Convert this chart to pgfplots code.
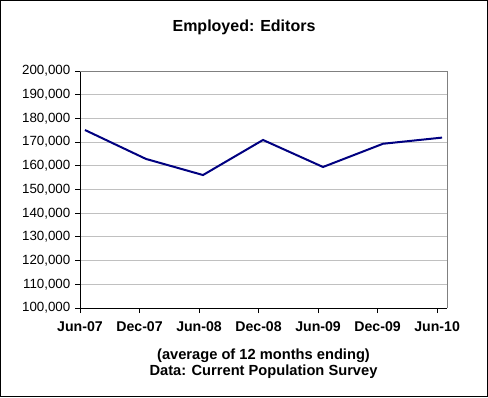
\documentclass[border=0pt]{standalone}
\usepackage{fontspec}
\setmainfont{Liberation Sans}
\usepackage{pgfplots}
\pgfplotsset{compat=1.18}
\definecolor{navyline}{HTML}{000080}
\definecolor{gridc}{HTML}{C0C0C0}
\definecolor{borderc}{HTML}{808080}
\begin{document}
\begin{tikzpicture}
\useasboundingbox (0,0) rectangle (366pt,297.75pt);
\draw[black, line width=0.75pt] (0.375pt,0.375pt) rectangle (365.625pt,297.375pt);
\node[font=\fontsize{12}{14}\selectfont\bfseries] at (183pt,277pt) {Employed: Editors};
\begin{axis}[
  at={(60pt,66.75pt)}, anchor=south west,
  scale only axis, width=275.25pt, height=177.75pt,
  xmin=0, xmax=37, ymin=100000, ymax=200000,
  xtick={0,6,12,18,24,30,36},
  xticklabels={Jun-07,Dec-07,Jun-08,Dec-08,Jun-09,Dec-09,Jun-10},
  ytick={100000,110000,...,200000},
  axis x line*=bottom, axis y line*=left,
  axis line style={black, line width=0.75pt, -},
  tick align=outside, major tick length=3.75pt,
  tick style={black, line width=0.75pt},
  ymajorgrids, grid style={gridc, line width=0.75pt},
  /pgf/number format/assume math mode=true,
  scaled y ticks=false,
  yticklabel style={font=\fontsize{10}{12}\selectfont, /pgf/number format/fixed, /pgf/number format/1000 sep={,}},
  xticklabel style={font=\fontsize{10.6}{12}\selectfont\bfseries, yshift=-3pt},
  xlabel={(average of 12 months ending)\\Data: Current Population Survey},
  xlabel style={font=\fontsize{11}{12}\selectfont\bfseries, align=center, yshift=-6pt},
  clip=false,
]
\draw[borderc, line width=0.75pt] (rel axis cs:0,1) -- (rel axis cs:1,1) -- (rel axis cs:1,0);
\addplot[navyline, line width=1.5pt, mark=none] coordinates {
  (0.5,175100) (6.65,162900) (12.4,156100) (18.45,170900) (24.5,159500) (30.55,169300) (36.5,171900)
};
\end{axis}
\end{tikzpicture}
\end{document}
